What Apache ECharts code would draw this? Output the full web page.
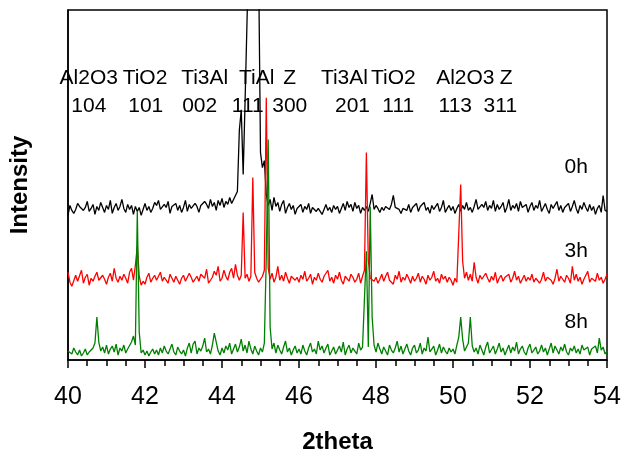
<!DOCTYPE html>
<html>
<head>
<meta charset="utf-8">
<script src="https://cdn.jsdelivr.net/npm/echarts@6/dist/echarts.min.js"></script>
<style>
	html, body { margin: 0; padding: 0; background: #fff; }
	#chart { width: 624px; height: 459px; }
</style>
</head>
<body>
<div id="chart"></div>
<script>
// scan grid: 2theta from 40 to 54, 0.05 deg step
const startAngle = 40
const stepDeg = 0.05

// intensities, relative to each trace's own baseline
const counts0h = [
	4, 14, 9, 6, 10, 16, 13, 15, 9, 12, 18, 8, 11, 15, 5, 13, 9, 17, 12, 7,
	14, 10, 19, 6, 12, 16, 9, 13, 20, 11, 7, 15, 10, 14, 5, 13, 8, 12, 4, 10,
	16, 9, 13, 7, 11, 17, 14, 19, 10, 8, 15, 12, 18, 6, 13, 11, 16, 9, 14, 7,
	12, 19, 8, 15, 11, 10, 16, 13, 7, 14, 12, 18, 15, 11, 20, 13, 17, 9, 19, 14,
	21, 12, 18, 15, 22, 16, 20, 24, 28, 89, 110, 45, 119, 199, 279, 460, 600, 600, 379, 259,
	67, 52, 59, 25, 14, 20, 9, 22, 13, 17, 8, 15, 19, 6, 12, 16, 10, 14, 5, 11,
	9, 15, 7, 13, 10, 16, 6, 12, 14, 8, 11, 13, 5, 10, 15, 9, 12, 7, 14, 10,
	13, 6, 11, 16, 9, 18, 12, 15, 8, 17, 11, 14, 6, 12, 9, 13, 8, 16, 25, 10,
	14, 11, 7, 12, 9, 13, 11, 10, 15, 24, 12, 14, 10, 6, 11, 13, 9, 15, 7, 12,
	10, 16, 8, 13, 11, 17, 9, 12, 6, 14, 10, 13, 16, 8, 12, 19, 7, 11, 14, 9,
	13, 6, 11, 15, 8, 14, 10, 17, 9, 12, 7, 13, 20, 10, 8, 15, 12, 18, 9, 14,
	11, 19, 8, 15, 10, 13, 17, 7, 12, 20, 9, 14, 11, 16, 8, 18, 12, 10, 15, 7,
	13, 17, 9, 14, 11, 19, 8, 12, 16, 10, 6, 15, 11, 13, 18, 9, 14, 7, 12, 10,
	16, 8, 13, 19, 11, 6, 14, 10, 17, 12, 8, 15, 9, 13, 5, 11, 14, 7, 24, 9,
	8
]
const counts3h = [
	18, 8, 4, 6, 15, 9, 11, 20, 7, 13, 16, 5, 12, 9, 14, 18, 10, 8, 15, 11,
	6, 13, 17, 9, 22, 12, 8, 14, 10, 16, 12, 7, 18, 22, 10, 25, 44, 14, 5, 9,
	6, 13, 17, 8, 12, 15, 10, 14, 18, 9, 13, 11, 7, 16, 12, 8, 14, 10, 6, 12,
	15, 9, 11, 17, 13, 8, 10, 14, 9, 16, 18, 12, 21, 7, 10, 13, 19, 15, 24, 9,
	12, 20, 14, 10, 18, 22, 12, 26, 15, 10, 15, 78, 12, 16, 9, 14, 113, 18, 12, 8,
	10, 14, 20, 193, 22, 11, 17, 8, 13, 24, 10, 15, 9, 18, 12, 7, 14, 16, 10, 13,
	8, 15, 11, 19, 9, 12, 16, 6, 13, 10, 17, 11, 8, 14, 12, 20, 9, 13, 7, 15,
	11, 18, 10, 6, 14, 12, 9, 16, 13, 8, 11, 17, 7, 14, 20, 138, 30, 12, 14, 9,
	13, 7, 11, 16, 9, 14, 18, 10, 12, 6, 15, 11, 19, 8, 13, 10, 16, 12, 7, 14,
	9, 12, 17, 8, 14, 11, 6, 15, 10, 13, 19, 9, 12, 7, 16, 11, 14, 8, 13, 10,
	5, 12, 8, 10, 106, 29, 12, 18, 10, 16, 9, 28, 13, 7, 15, 11, 9, 17, 12, 8,
	14, 10, 18, 7, 12, 15, 9, 13, 11, 16, 8, 12, 19, 10, 14, 7, 11, 15, 9, 13,
	10, 16, 8, 12, 14, 7, 11, 18, 9, 13, 15, 10, 6, 12, 21, 9, 14, 11, 8, 15,
	12, 7, 24, 10, 16, 9, 13, 6, 11, 15, 19, 8, 12, 14, 9, 17, 10, 13, 7, 11,
	16
]
const counts8h = [
	6, 8, 3, 9, 5, 2, 7, 1, 4, 8, 2, 5, 3, 9, 14, 40, 15, 6, 10, 4,
	12, 3, 8, 11, 5, 13, 2, 9, 6, 12, 4, 8, 10, 15, 21, 12, 146, 25, 4, 7,
	2, 6, 1, 5, 8, 3, 7, 2, 9, 4, 11, 6, 3, 8, 13, 5, 2, 10, 6, 3,
	7, 1, 9, 14, 4, 13, 16, 3, 9, 6, 11, 19, 5, 8, 3, 12, 24, 25, 6, 2,
	9, 4, 11, 7, 14, 3, 8, 13, 5, 10, 18, 6, 12, 4, 16, 8, 3, 11, 6, 2,
	9, 5, 14, 100, 218, 30, 8, 14, 4, 12, 7, 3, 10, 16, 5, 9, 2, 7, 11, 4,
	8, 3, 12, 6, 2, 9, 14, 5, 8, 3, 16, 7, 11, 4, 9, 13, 2, 6, 10, 3,
	7, 11, 5, 15, 2, 8, 12, 4, 9, 6, 3, 14, 7, 10, 12, 106, 10, 151, 40, 12,
	5, 14, 8, 3, 10, 6, 2, 12, 7, 4, 9, 16, 5, 11, 3, 8, 13, 6, 2, 9,
	12, 4, 7, 14, 3, 9, 6, 20, 5, 8, 11, 2, 7, 13, 4, 10, 6, 3, 9, 5,
	8, 3, 12, 20, 40, 18, 6, 10, 14, 40, 11, 5, 9, 3, 12, 7, 2, 10, 15, 4,
	6, 11, 3, 8, 14, 5, 9, 2, 7, 12, 4, 10, 6, 15, 3, 8, 11, 5, 2, 9,
	13, 4, 7, 10, 3, 6, 12, 5, 9, 2, 8, 14, 4, 11, 7, 3, 10, 6, 13, 5,
	2, 9, 6, 11, 4, 8, 3, 12, 7, 5, 10, 2, 8, 6, 11, 4, 19, 7, 10, 3,
	6
]

// vertical offsets used to stack the patterns
const offset0h = 141
const offset3h = 70
const offset8h = 3

// peak labels (phase on top, hkl below) and where they sit on the 2theta axis
const phaseNames = ['Al2O3', 'TiO2', 'Ti3Al', 'TiAl', 'Z', 'Ti3Al', 'TiO2', 'Al2O3', 'Z']
const phaseAt = [40.54, 42.0, 43.55, 44.9, 45.76, 47.18, 48.45, 50.32, 51.38]
const hklNames = ['104', '101', '002', '111', '300', '201', '111', '113', '311']
const hklAt = [40.54, 42.02, 43.42, 44.67, 45.76, 47.39, 48.58, 50.06, 51.23]

const timeNames = ['0h', '3h', '8h']
const timeAt = [53.2, 53.2, 53.2]
const timeLevel = [193, 109, 38]

const xTicks = [40, 42, 44, 46, 48, 50, 52, 54]

function toPairs(counts, offset) {
	return counts.map(function (c, i) {
		return [+(startAngle + i * stepDeg).toFixed(2), c + offset]
	})
}

function labelSeries(names, at, level) {
	return {
		type: 'scatter',
		symbolSize: 0,
		silent: true,
		z: 5,
		itemStyle: { color: '#000', opacity: 1 },
		label: {
			show: true,
			position: 'inside',
			formatter: function (p) { return p.data[2] },
			color: '#000',
			textBorderWidth: 0,
			fontFamily: 'Liberation Sans',
			fontSize: 21
		},
		data: names.map(function (n, i) {
			return [at[i], Array.isArray(level) ? level[i] : level, n]
		})
	}
}

const chart = echarts.init(document.getElementById('chart'))
const option = {
	animation: false,
	backgroundColor: '#fff',
	textStyle: { fontFamily: 'Liberation Sans' },
	grid: {
		left: 67,
		right: 17,
		top: 10,
		bottom: 98,
		show: true,
		borderColor: '#000',
		borderWidth: 1.5
	},
	xAxis: {
		type: 'value',
		min: 40,
		max: 54,
		interval: 2,
		name: '2theta',
		nameLocation: 'middle',
		nameGap: 70,
		nameTextStyle: { fontSize: 24, fontWeight: 'bold', color: '#000', fontFamily: 'Liberation Sans' },
		axisLine: { show: true, lineStyle: { color: '#000', width: 1.5 } },
		axisTick: { show: true, inside: false, length: 8, lineStyle: { color: '#000', width: 1.5 } },
		minorTick: { show: true, splitNumber: 4, length: 6, lineStyle: { color: '#000', width: 1.5 } },
		axisLabel: {
			margin: 25,
			fontSize: 25,
			color: '#000',
			fontFamily: 'Liberation Sans',
			formatter: function (v) { return xTicks.indexOf(v) >= 0 ? String(v) : '' }
		},
		splitLine: { show: false }
	},
	yAxis: {
		type: 'value',
		min: 0,
		max: 351,
		name: 'Intensity',
		nameLocation: 'middle',
		nameRotate: 90,
		nameGap: 36,
		nameTextStyle: { fontSize: 24, fontWeight: 'bold', color: '#000', fontFamily: 'Liberation Sans' },
		axisLine: { show: true, lineStyle: { color: '#000', width: 1.5 } },
		axisTick: { show: false },
		axisLabel: { show: false },
		splitLine: { show: false }
	},
	series: [
		{
			name: '0h',
			type: 'line',
			showSymbol: false,
			clip: true,
			lineStyle: { color: '#000', width: 1.3 },
			data: toPairs(counts0h, offset0h)
		},
		{
			name: '3h',
			type: 'line',
			showSymbol: false,
			clip: true,
			lineStyle: { color: '#ff0000', width: 1.3 },
			data: toPairs(counts3h, offset3h)
		},
		{
			name: '8h',
			type: 'line',
			showSymbol: false,
			clip: true,
			lineStyle: { color: '#008000', width: 1.3 },
			data: toPairs(counts8h, offset8h)
		},
		labelSeries(phaseNames, phaseAt, 283),
		labelSeries(hklNames, hklAt, 255),
		labelSeries(timeNames, timeAt, timeLevel)
	]
}
chart.setOption(option)
</script>
</body>
</html>
